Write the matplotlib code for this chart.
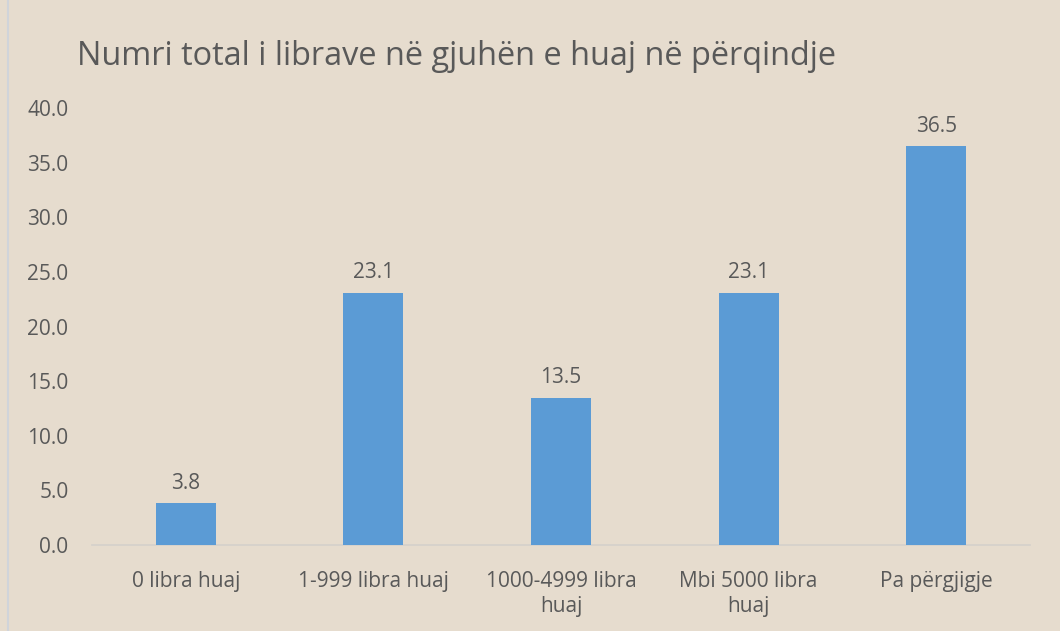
import matplotlib.pyplot as plt
from matplotlib.lines import Line2D

# data
categories = ['0 libra huaj', '1-999 libra huaj', '1000-4999 libra\nhuaj',
              'Mbi 5000 libra\nhuaj', 'Pa përgjigje']
values = [3.8, 23.1, 13.5, 23.1, 36.5]
yticks = [0, 5, 10, 15, 20, 25, 30, 35, 40]

bg = '#E6DCCE'
txt = '#595959'
plt.rcParams['font.family'] = ['Open Sans', 'DejaVu Sans']

fig = plt.figure(figsize=(10.6, 6.31), dpi=100, facecolor=bg)
ax = fig.add_axes([0.0868, 0.1363, 0.885, 0.6925])
ax.set_facecolor(bg)

x = list(range(len(categories)))
bars = ax.bar(x, values, width=0.32, color='#5B9BD5', zorder=3)

for xi, v in zip(x, values):
    ax.annotate(f'{v:.1f}', (xi, v), xytext=(0, 7), textcoords='offset points',
                ha='center', va='bottom', fontsize=15, color=txt)

ax.set_xlim(-0.5, len(categories) - 0.5)
ax.set_ylim(0, 40)
ax.set_yticks(yticks)
ax.set_yticklabels([f'{t:.1f}' for t in yticks])
ax.set_xticks(x)
ax.set_xticklabels(categories, linespacing=1.2)

ax.tick_params(axis='y', length=0, pad=17, labelsize=15, labelcolor=txt)
ax.tick_params(axis='x', length=0, pad=19, labelsize=15, labelcolor=txt)

for s in ['top', 'right', 'left']:
    ax.spines[s].set_visible(False)
ax.spines['bottom'].set_color('#D4D0CB')
ax.spines['bottom'].set_linewidth(1.2)

fig.text(0.0727, 0.91, 'Numri total i librave në gjuhën e huaj në përqindje',
         fontsize=23.4, color=txt, ha='left', va='center')

# thin border line on the left edge
fig.add_artist(Line2D([0.008, 0.008], [0, 1], transform=fig.transFigure,
                      color='#D0D4DA', lw=1.5))

fig.savefig('out.png', dpi=100, facecolor=bg)
